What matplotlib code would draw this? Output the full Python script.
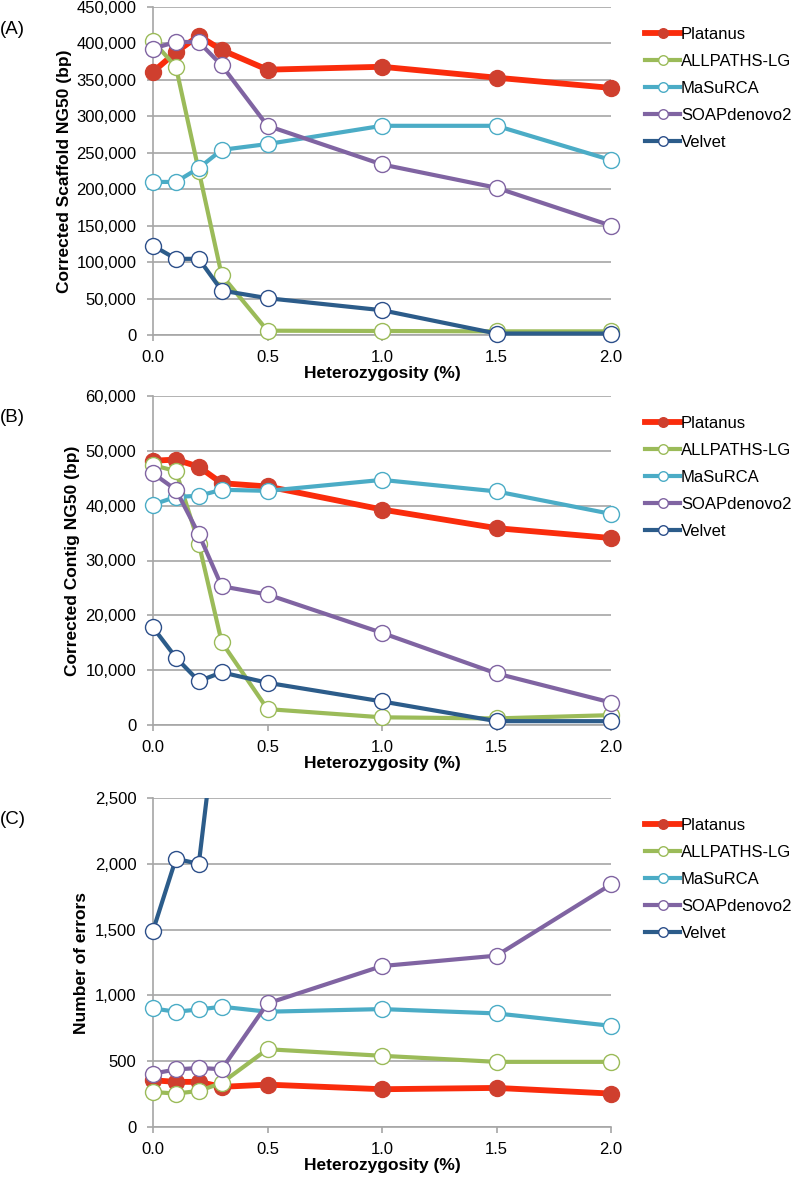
import matplotlib
matplotlib.use("Agg")
import matplotlib.pyplot as plt
from matplotlib.ticker import FuncFormatter, MultipleLocator
from matplotlib.patches import Rectangle

plt.rcParams['font.family'] = ['Liberation Sans', 'DejaVu Sans']

het = [0.0, 0.1, 0.2, 0.3, 0.5, 1.0, 1.5, 2.0]
assemblers = ["Platanus", "ALLPATHS-LG", "MaSuRCA", "SOAPdenovo2", "Velvet"]

# (A) Corrected scaffold NG50 (bp)
scaffold_platanus = [361000, 388000, 410500, 391000, 364000, 368000, 353000, 339000]
scaffold_allpaths = [403000, 368000, 225000, 82000, 5900, 5500, 5000, 5000]
scaffold_masurca = [210000, 210000, 229000, 254000, 262000, 287000, 287000, 240000]
scaffold_soap = [393000, 402000, 402000, 370000, 287000, 234000, 202000, 150000]
scaffold_velvet = [122500, 104500, 104500, 61000, 50500, 34000, 2000, 2000]

# (B) Corrected contig NG50 (bp)
contig_platanus = [48200, 48400, 47100, 44100, 43500, 39300, 35900, 34100]
contig_allpaths = [47400, 46300, 33100, 15100, 2900, 1400, 1200, 1800]
contig_masurca = [40200, 41600, 41800, 42900, 42700, 44700, 42600, 38500]
contig_soap = [45900, 42900, 34800, 25300, 23800, 16800, 9400, 4100]
contig_velvet = [17800, 12300, 8000, 9600, 7700, 4300, 700, 700]

# (C) Number of errors
errors_platanus = [355, 343, 343, 305, 322, 287, 297, 254]
errors_allpaths = [266, 254, 274, 335, 591, 541, 495, 495]
errors_masurca = [901, 876, 893, 914, 876, 896, 863, 769]
errors_soap = [406, 437, 449, 439, 939, 1223, 1302, 1843]
errors_velvet = [1492, 2038, 2000, 3450, 4500, 6000, 7500, 9000]

line_colors = ["#FA2C0C", "#9BBB59", "#4BACC6", "#8064A2", "#2C5C8A"]
edge_colors = ["#CF3F2E", "#9BBB59", "#4BACC6", "#8064A2", "#2C4F8A"]

panels = [
    ("(A)", "Corrected Scaffold NG50 (bp)",
     [scaffold_platanus, scaffold_allpaths, scaffold_masurca, scaffold_soap, scaffold_velvet],
     450000, 50000, 7, 335, 65),
    ("(B)", "Corrected Contig NG50 (bp)",
     [contig_platanus, contig_allpaths, contig_masurca, contig_soap, contig_velvet],
     60000, 10000, 396, 725, 73),
    ("(C)", "Number of errors",
     [errors_platanus, errors_allpaths, errors_masurca, errors_soap, errors_velvet],
     2500, 500, 798, 1127, 82),
]

W, H = 792, 1177
fig = plt.figure(figsize=(W / 100, H / 100), dpi=100)
grid_c = "#A6A6A6"

for tag, ylabel, series, ymax, ystep, top_px, bot_px, ylab_x in panels:
    left_px, right_px = 153, 611
    ax = fig.add_axes([left_px / W, 1 - bot_px / H, (right_px - left_px) / W, (bot_px - top_px) / H])
    clip = Rectangle((-0.1, -0.1), 1.2, 1.1, transform=ax.transAxes, fill=False, visible=False)
    ax.add_patch(clip)
    for i, (name, vals) in enumerate(zip(assemblers, series)):
        if i == 0:
            ln, = ax.plot(het, vals, color=line_colors[i], lw=4.2, marker='o', ms=11.5,
                          mfc=edge_colors[i], mec=edge_colors[i], mew=1, label=name, zorder=3 + i)
        else:
            ln, = ax.plot(het, vals, color=line_colors[i], lw=3.0, marker='o', ms=11.5,
                          mfc='white', mec=edge_colors[i], mew=1.0, label=name, zorder=3 + i)
        ln.set_clip_path(clip)
    ax.set_xlim(0, 2.0)
    ax.set_ylim(0, ymax)
    ax.xaxis.set_major_locator(MultipleLocator(0.5))
    ax.yaxis.set_major_locator(MultipleLocator(ystep))
    ax.xaxis.set_major_formatter(FuncFormatter(lambda v, p: f"{v:.1f}"))
    ax.yaxis.set_major_formatter(FuncFormatter(lambda v, p: f"{int(round(v)):,}"))
    ax.grid(axis='y', color=grid_c, lw=1.2)
    ax.set_axisbelow(True)
    for s in ['top', 'right']:
        ax.spines[s].set_visible(False)
    for s in ['left', 'bottom']:
        ax.spines[s].set_color(grid_c)
        ax.spines[s].set_linewidth(1.2)
    ax.tick_params(axis='both', colors=grid_c, labelcolor='black', labelsize=12,
                   length=4, width=1.2)
    ax.tick_params(axis='y', pad=8)
    ax.tick_params(axis='x', pad=7)
    ax.set_xlabel("Heterozygosity (%)", fontsize=12.5, fontweight='bold', labelpad=0.5)
    ax.set_ylabel(ylabel, fontsize=12.5, fontweight='bold', va='center')
    ax.yaxis.set_label_coords((ylab_x - left_px) / (right_px - left_px), 0.5)
    fig.text(0 / W, 1 - (top_px + 22) / H, tag, fontsize=13.5, ha='left', va='center')
    leg = ax.legend(loc='upper left', bbox_to_anchor=(645 / W, 1 - (top_px + 20) / H),
                    bbox_transform=fig.transFigure, frameon=False, fontsize=12,
                    handlelength=2.1, handletextpad=0.05, labelspacing=0.72,
                    borderpad=0, borderaxespad=0, markerscale=0.6)

fig.savefig("out.png", dpi=100)
